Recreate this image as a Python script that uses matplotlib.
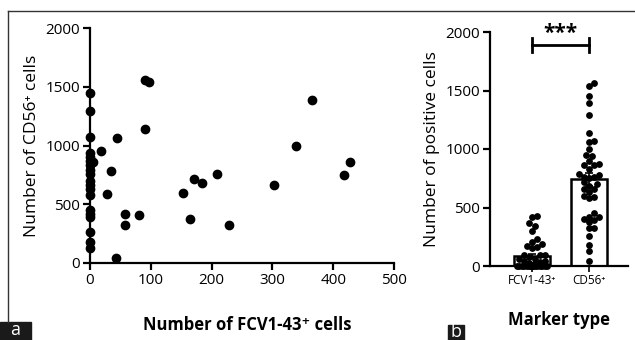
import numpy as np
import matplotlib
matplotlib.use("Agg")
import matplotlib.pyplot as plt
from matplotlib.lines import Line2D
from matplotlib.patches import Rectangle

plt.rcParams["font.family"] = ["Open Sans", "DejaVu Sans"]

# per-sample counts
fcv = [0, 0, 0, 0, 0, 0, 0, 0, 0, 0, 0, 0, 0, 0, 0, 0, 0, 0, 0,
       18, 5, 35, 28, 45, 42, 57, 57, 80, 91, 97, 91,
       153, 165, 171, 185, 209, 228, 302, 339, 365, 417, 428]
cd56 = [1450, 1290, 1070, 940, 900, 870, 830, 790, 760, 700, 660, 630, 580,
        450, 420, 390, 260, 180, 130,
        950, 860, 780, 590, 1060, 40, 415, 325, 405, 1560, 1540, 1140,
        600, 375, 715, 685, 760, 325, 660, 1000, 1390, 750, 860]
categories = ["FCV1-43⁺", "CD56⁺"]
yticks = [0, 500, 1000, 1500, 2000]
xticks = [0, 100, 200, 300, 400, 500]


def swarm(vals, pos, dx, dy, maxoff):
    vals = np.asarray(vals, float)
    order = np.argsort(vals)
    placed = []
    xs = np.zeros(len(vals))
    cands = [0.0]
    k = 1
    while k * dx * 0.5 <= maxoff:
        cands += [k * dx * 0.5, -k * dx * 0.5]
        k += 1
    for i in order:
        y = vals[i]
        best, bestd = 0.0, -1
        for c in cands:
            d = min([np.hypot((c - px) / dx, (y - py) / dy) for px, py in placed] + [9])
            if d >= 1:
                best = c
                break
            if d > bestd:
                best, bestd = c, d
        placed.append((best, y))
        xs[i] = pos + best
    return xs


fig = plt.figure(figsize=(6.35, 3.4), dpi=100)
W, H = 635, 340

# ---- panel a: scatter
ax1 = fig.add_axes([90 / W, 1 - 263 / H, 304 / W, 235 / H])
ax1.scatter(fcv, cd56, s=36, color="black", clip_on=False, zorder=3)
ax1.set_xlim(0, 500)
ax1.set_ylim(0, 2000)
ax1.set_xticks(xticks)
ax1.set_yticks(yticks)
for s in ["top", "right"]:
    ax1.spines[s].set_visible(False)
for s in ["left", "bottom"]:
    ax1.spines[s].set_linewidth(1.6)
ax1.tick_params(width=1.6, length=5, labelsize=11, pad=2)
ax1.set_ylabel("Number of CD56⁺ cells", fontsize=12.5, labelpad=4)

# ---- panel b: bar + dots
ax2 = fig.add_axes([490 / W, 1 - 266 / H, 138 / W, 234 / H])
pos = np.arange(len(categories))
groups = [fcv, cd56]
means = [np.mean(g) for g in groups]
sems = [np.std(g, ddof=1) / np.sqrt(len(g)) for g in groups]
ax2.bar(pos, means, width=0.63, color="white", edgecolor="black", linewidth=1.8, zorder=1)
ax2.errorbar(pos, means, yerr=sems, fmt="none", ecolor="black", elinewidth=1.2,
             capsize=3, capthick=1.2, zorder=2)
for p, g in zip(pos, groups):
    xs = swarm(g, p, 0.09, 42, 0.3)
    ax2.scatter(xs, g, s=15, color="black", zorder=3, clip_on=False)
ax2.set_xlim(-0.737, 1.684)
ax2.set_ylim(0, 2000)
ax2.set_yticks(yticks)
ax2.set_xticks(pos)
ax2.set_xticklabels(categories, fontsize=8.5)
ax2.tick_params(axis="y", width=1.6, length=5, labelsize=11, pad=2)
ax2.tick_params(axis="x", width=1.2, length=4, pad=2)
for s in ["top", "right"]:
    ax2.spines[s].set_visible(False)
for s in ["left", "bottom"]:
    ax2.spines[s].set_linewidth(1.6)
ax2.set_ylabel("Number of positive cells", fontsize=12.5, labelpad=4)

# significance bracket
yb = 1890
ax2.plot([pos[0], pos[1]], [yb, yb], color="black", lw=2, clip_on=False)
ax2.plot([pos[0], pos[0]], [yb - 60, yb + 60], color="black", lw=2, clip_on=False)
ax2.plot([pos[1], pos[1]], [yb - 60, yb + 60], color="black", lw=2, clip_on=False)
ax2.text((pos[0] + pos[1]) / 2, 1990, "***", ha="center", va="center",
         fontsize=15, fontweight="bold", clip_on=False)

# axis titles
fig.text(247 / W, 1 - 325 / H, "Number of FCV1-43⁺ cells", ha="center", va="center",
         fontsize=12, fontweight="bold")
fig.text(559 / W, 1 - 320 / H, "Marker type", ha="center", va="center",
         fontsize=12, fontweight="bold")

# frame and panel letters
fig.add_artist(Line2D([8 / W, 1], [1 - 11 / H, 1 - 11 / H], color="#333333", lw=1))
fig.add_artist(Line2D([8 / W, 8 / W], [1 - 11 / H, 1 - 322 / H], color="#333333", lw=1))
fig.add_artist(Rectangle((0, 0), 31 / W, 18 / H, color="#1a1a1a", transform=fig.transFigure))
fig.text(10 / W, 1 / H, "a", color="white", fontsize=13, va="bottom", ha="left")
fig.add_artist(Rectangle((448 / W, 0), 16 / W, 15 / H, color="#1a1a1a", transform=fig.transFigure))
fig.text(456 / W, -1 / H, "b", color="white", fontsize=13, va="bottom", ha="center")

fig.savefig("out.png", dpi=100)
